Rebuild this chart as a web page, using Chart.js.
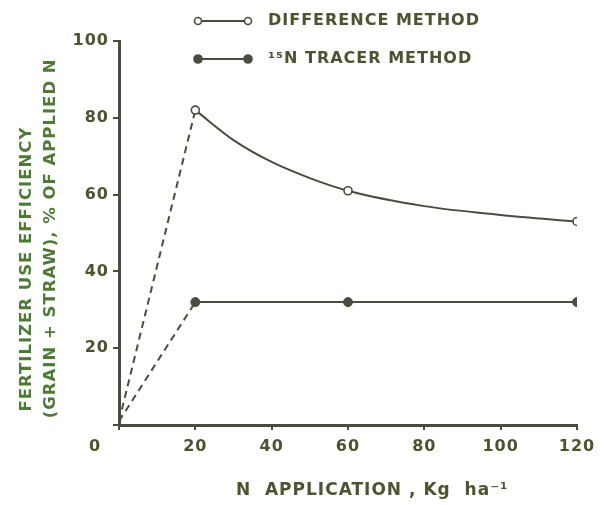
<!DOCTYPE html>
<html>
<head>
<meta charset="utf-8">
<script src="https://cdn.jsdelivr.net/npm/chart.js@4/dist/chart.umd.min.js"></script>
<style>
  html, body { margin: 0; padding: 0; background: #ffffff; }
  #wrap { width: 607px; height: 505px; }
</style>
</head>
<body>
<div id="wrap"><canvas id="graph"></canvas></div>
<script>
// N rates (kg/ha) and efficiency (% of applied N)
var nRates = [0, 20, 60, 120];
var differenceMethod = [1, 82, 61, 53];
var tracerMethod = [1, 32, 32, 32];
// the drawn curve through the difference-method points
var curveN = [20, 30, 40, 50, 60, 80, 100, 120];
var differenceCurve = [82, 74.2, 68.5, 64.3, 61, 57, 54.7, 53];
var xTicks = [0, 20, 40, 60, 80, 100, 120];
var yTicks = [0, 20, 40, 60, 80, 100];
var legendNames = ['DIFFERENCE METHOD', '\u00B9\u2075N TRACER METHOD'];

var INK = '#4b4b40';
var TEXT = '#4a5530';
var FONT = "'DejaVu Sans', sans-serif";

function toPoints(xs, ys) {
    return xs.map(function (x, i) { return { x: x, y: ys[i] }; });
}

// small line + two markers, used as legend symbol
function legendIcon(filled) {
    var c = document.createElement('canvas');
    c.width = 62;
    c.height = 12;
    var ctx = c.getContext('2d');
    ctx.strokeStyle = INK;
    ctx.lineWidth = 2;
    ctx.beginPath();
    ctx.moveTo(6, 6);
    ctx.lineTo(56, 6);
    ctx.stroke();
    [6, 56].forEach(function (cx) {
        ctx.beginPath();
        ctx.arc(cx, 6, filled ? 4 : 3.5, 0, Math.PI * 2);
        ctx.fillStyle = filled ? INK : '#ffffff';
        ctx.fill();
        ctx.lineWidth = 1.6;
        ctx.stroke();
    });
    return c;
}
var icons = [legendIcon(false), legendIcon(true)];

// lettering spacing, legend placement and the "0" at the origin corner
var extras = {
    id: 'extras',
    beforeUpdate: function (chart) { chart.ctx.letterSpacing = '1px'; },
    beforeDraw: function (chart) { chart.ctx.letterSpacing = '1px'; },
    afterLayout: function (chart) {
        var lg = chart.legend;
        var h = lg.height;
        lg.left = 164;
        lg.top = -9;
        lg.right = lg.left + lg.width;
        lg.bottom = lg.top + h;
    },
    afterDraw: function (chart) {
        var ctx = chart.ctx;
        var xs = chart.scales.x;
        ctx.save();
        ctx.font = 'bold 16px ' + FONT;
        ctx.fillStyle = TEXT;
        ctx.textAlign = 'center';
        ctx.textBaseline = 'middle';
        ctx.fillText('0', xs.getPixelForValue(0) - 24, 447);
        ctx.restore();
    }
};

var config = {
    type: 'line',
    data: {
        datasets: [
            {
                label: 'diff curve',
                data: toPoints(curveN, differenceCurve),
                borderColor: INK,
                borderWidth: 2,
                cubicInterpolationMode: 'monotone',
                pointRadius: 0,
                order: 3,
            },
            {
                label: legendNames[0],
                data: toPoints(nRates.slice(1), differenceMethod.slice(1)),
                showLine: false,
                pointRadius: 4,
                pointBorderWidth: 1.6,
                pointBackgroundColor: '#ffffff',
                pointBorderColor: INK,
                order: 1,
            },
            {
                label: legendNames[1],
                data: toPoints(nRates.slice(1), tracerMethod.slice(1)),
                borderColor: INK,
                borderWidth: 2,
                pointRadius: 4.5,
                pointBorderWidth: 1,
                pointBackgroundColor: INK,
                pointBorderColor: INK,
                order: 2,
            },
            {
                label: 'dash1',
                data: toPoints(nRates.slice(0, 2), differenceMethod.slice(0, 2)),
                borderColor: INK,
                borderWidth: 2,
                borderDash: [7, 5],
                pointRadius: 0,
                order: 4,
            },
            {
                label: 'dash2',
                data: toPoints(nRates.slice(0, 2), tracerMethod.slice(0, 2)),
                borderColor: INK,
                borderWidth: 2,
                borderDash: [7, 5],
                pointRadius: 0,
                order: 5,
            },
        ],
    },
    options: {
        responsive: true,
        maintainAspectRatio: false,
        animation: false,
        events: [],
        layout: {
            padding: { top: 41, right: 30, left: 0, bottom: 0 },
        },
        plugins: {
            tooltip: { enabled: false },
            legend: {
                position: 'chartArea',
                align: 'start',
                labels: {
                    usePointStyle: true,
                    pointStyleWidth: 74,
                    padding: 22,
                    color: TEXT,
                    font: { family: FONT, size: 16, weight: 'bold' },
                    generateLabels: function (chart) {
                        return legendNames.map(function (name, i) {
                            return {
                                text: name,
                                pointStyle: icons[i],
                                fillStyle: INK,
                                strokeStyle: INK,
                                lineWidth: 0,
                                hidden: false,
                                datasetIndex: i + 1,
                                fontColor: TEXT,
                            };
                        });
                    },
                },
            },
        },
        scales: {
            x: {
                type: 'linear',
                min: 0,
                max: 120,
                afterBuildTicks: function (scale) {
                    scale.ticks = xTicks.map(function (v) { return { value: v }; });
                },
                afterFit: function (scale) { scale.height = 80; },
                ticks: {
                    color: TEXT,
                    font: { family: FONT, size: 16, weight: 'bold' },
                    padding: 7,
                    maxRotation: 0,
                    callback: function (v) { return v === 0 ? '' : v; },
                },
                grid: {
                    drawOnChartArea: false,
                    color: INK,
                    lineWidth: 2,
                    tickLength: 5,
                },
                border: { color: INK, width: 3 },
                title: {
                    display: true,
                    text: '       N  APPLICATION , Kg  ha\u207B\u00B9',
                    color: TEXT,
                    font: { family: FONT, size: 17, weight: 'bold' },
                    padding: { top: 14 },
                },
            },
            y: {
                min: 0,
                max: 100,
                afterBuildTicks: function (scale) {
                    scale.ticks = yTicks.map(function (v) { return { value: v }; });
                },
                afterFit: function (scale) { scale.width = 119; },
                ticks: {
                    color: TEXT,
                    font: { family: FONT, size: 16, weight: 'bold' },
                    padding: 4,
                    callback: function (v) { return v === 0 ? '' : v; },
                },
                grid: {
                    drawOnChartArea: false,
                    color: INK,
                    lineWidth: 2,
                    tickLength: 6,
                },
                border: { color: INK, width: 3 },
                title: {
                    display: true,
                    align: 'start',
                    text: ['  FERTILIZER USE EFFICIENCY', ' (GRAIN + STRAW), % OF APPLIED N'],
                    color: '#4f7a35',
                    font: { family: FONT, size: 16.5, weight: 'bold', lineHeight: 1.5 },
                    padding: { top: 14, bottom: 0 },
                },
            },
        },
    },
    plugins: [extras],
};

new Chart(document.getElementById('graph'), config);
</script>
</body>
</html>
